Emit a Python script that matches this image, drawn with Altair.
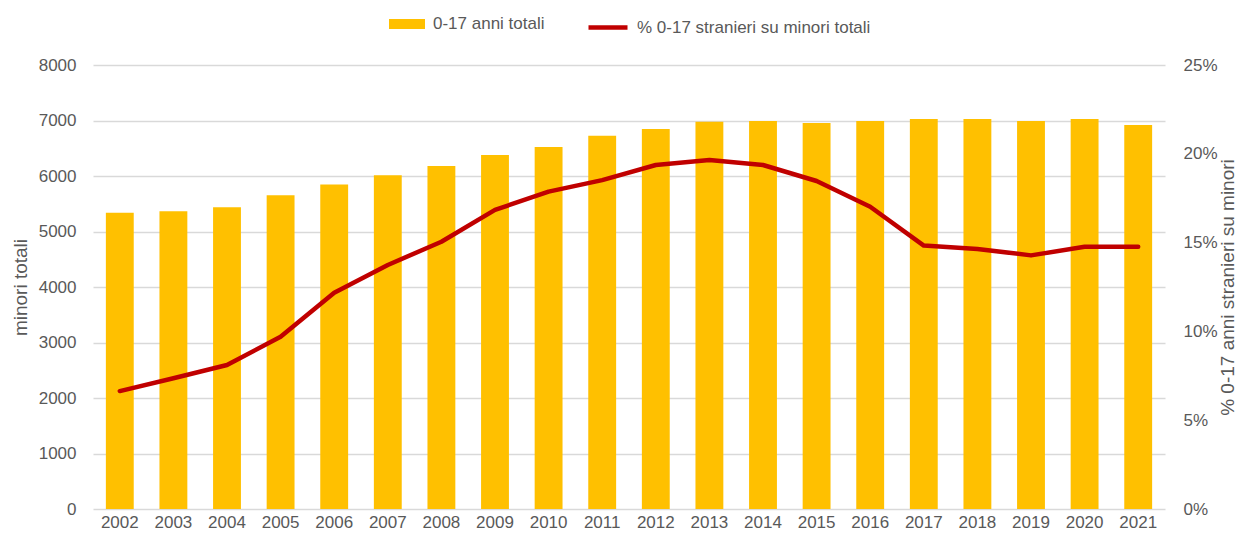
import altair as alt
import pandas as pd

anni = ["2002", "2003", "2004", "2005", "2006", "2007", "2008", "2009", "2010", "2011",
        "2012", "2013", "2014", "2015", "2016", "2017", "2018", "2019", "2020", "2021"]
totali = [5340, 5363, 5435, 5651, 5849, 6012, 6180, 6378, 6523, 6727,
          6847, 6979, 6991, 6955, 6991, 7027, 7027, 6991, 7027, 6919]
pct_stranieri = [6.64, 7.36, 8.11, 9.70, 12.18, 13.74, 15.05, 16.84, 17.87, 18.52,
                 19.37, 19.65, 19.37, 18.47, 17.02, 14.83, 14.64, 14.28, 14.77, 14.77]
serie_barre = "0-17 anni totali"
serie_linea = "% 0-17 stranieri su minori totali"
ticks_sx = [0, 1000, 2000, 3000, 4000, 5000, 6000, 7000, 8000]
ticks_dx = [0, 5, 10, 15, 20, 25]

df = pd.DataFrame({"anno": anni, "totali": totali, "pct": pct_stranieri,
                   "s1": [serie_barre] * len(anni), "s2": [serie_linea] * len(anni)})

FONT = "Liberation Sans"
GRAY = "#595959"

x = alt.X("anno:N", sort=None, title=None,
          scale=alt.Scale(paddingInner=0.48),
          axis=alt.Axis(labelAngle=0, ticks=False, domain=False, grid=False,
                        labelPadding=5, labelFontSize=17))

bars = alt.Chart(df).mark_bar().encode(
    x=x,
    y=alt.Y("totali:Q", scale=alt.Scale(domain=[0, 8000], nice=False),
            axis=alt.Axis(values=ticks_sx, format="d", title="minori totali", ticks=False, domain=False,
                          grid=True, gridColor="#d9d9d9", gridWidth=1.3,
                          labelPadding=17, labelFontSize=17, titleFontSize=19,
                          titleAngle=270, titleX=-73, titleY=222,
                          titleAlign="center", titleBaseline="middle")),
    color=alt.Color("s1:N", scale=alt.Scale(domain=[serie_barre], range=["#ffc000"]),
                    legend=alt.Legend(title=None, orient="none", legendX=296, legendY=-59,
                                      symbolType="M-1,-0.28H1V0.28H-1Z", symbolSize=1296,
                                      symbolStrokeWidth=0, labelOffset=8, labelFontSize=17,
                                      labelLimit=600, labelColor=GRAY, labelFont=FONT)),
)

line = alt.Chart(df).mark_line(strokeWidth=4.5, strokeCap="round", strokeJoin="round").encode(
    x=x,
    y=alt.Y("pct:Q", scale=alt.Scale(domain=[0, 25], nice=False),
            axis=alt.Axis(orient="right", values=ticks_dx, labelExpr="datum.value + '%'",
                          title="% 0-17 anni stranieri su minori", ticks=False, domain=False,
                          grid=False, labelPadding=18, labelFontSize=17, titleFontSize=19,
                          titleAngle=270, titleX=62, titleY=222,
                          titleAlign="center", titleBaseline="middle")),
    stroke=alt.Stroke("s2:N", scale=alt.Scale(domain=[serie_linea], range=["#c00000"]),
                      legend=alt.Legend(title=None, orient="none", legendX=493, legendY=-59.5,
                                        symbolType="stroke", symbolSize=1521,
                                        symbolStrokeWidth=4.5, labelOffset=7, labelFontSize=17,
                                        labelLimit=600, labelColor=GRAY, labelFont=FONT)),
)

chart = alt.layer(bars, line).resolve_scale(y="independent", color="independent", stroke="independent").properties(
    width=1072, height=444,
    autosize=alt.AutoSizeParams(type="none"),
    padding={"left": 85, "top": 57, "right": 71, "bottom": 24},
).configure_view(stroke=None).configure_axis(
    labelFont=FONT, titleFont=FONT, labelColor=GRAY, titleColor=GRAY,
    titleFontWeight="normal",
)

chart.save("out.html", embed_options={"renderer": "svg", "actions": False})
